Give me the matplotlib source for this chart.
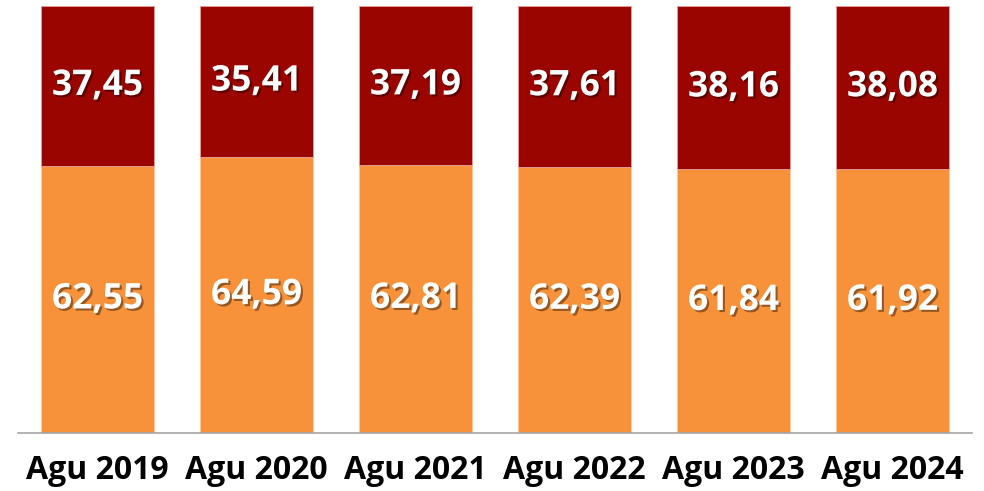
import matplotlib
matplotlib.use("Agg")
import matplotlib.pyplot as plt
import matplotlib.patheffects as pe
import numpy as np

categories = ["Agu 2019", "Agu 2020", "Agu 2021", "Agu 2022", "Agu 2023", "Agu 2024"]
lower_values = [62.55, 64.59, 62.81, 62.39, 61.84, 61.92]
upper_values = [37.45, 35.41, 37.19, 37.61, 38.16, 38.08]

orange = "#F7923A"
dark_red = "#9A0500"

plt.rcParams["font.family"] = ["Open Sans", "DejaVu Sans"]

fig = plt.figure(figsize=(9.84, 4.91), dpi=100)
ax = fig.add_axes([18 / 984, 58 / 491, 954 / 984, 427 / 491])

x = np.arange(len(categories))
width = 0.71
ax.bar(x, lower_values, width, color=orange, edgecolor="#FBC9A0", linewidth=0.6)
ax.bar(x, upper_values, width, bottom=lower_values, color=dark_red,
       edgecolor="#E8A0A0", linewidth=0.6)

shadow = [pe.withSimplePatchShadow(offset=(1.5, -1.5), shadow_rgbFace="black", alpha=0.4)]

def fmt(v):
    return f"{v:.2f}".replace(".", ",")

for xi, lo, up in zip(x, lower_values, upper_values):
    ax.text(xi, lo / 2, fmt(lo), ha="center", va="center", color="white",
            fontsize=25.5, fontweight="bold", path_effects=shadow)
    ax.text(xi, lo + up / 2, fmt(up), ha="center", va="center", color="white",
            fontsize=25.5, fontweight="bold", path_effects=shadow)

ax.set_xlim(-0.5, len(categories) - 0.5)
ax.set_ylim(0, 100)
ax.set_xticks(x)
ax.set_xticklabels(categories, fontsize=23, fontweight="bold", color="black")
ax.tick_params(axis="x", length=0, pad=15)
ax.set_yticks([])
for side in ["top", "right", "left"]:
    ax.spines[side].set_visible(False)
ax.spines["bottom"].set_color("#A6A6A6")
ax.spines["bottom"].set_linewidth(1.2)

fig.savefig("out.png", dpi=100, facecolor="white")
